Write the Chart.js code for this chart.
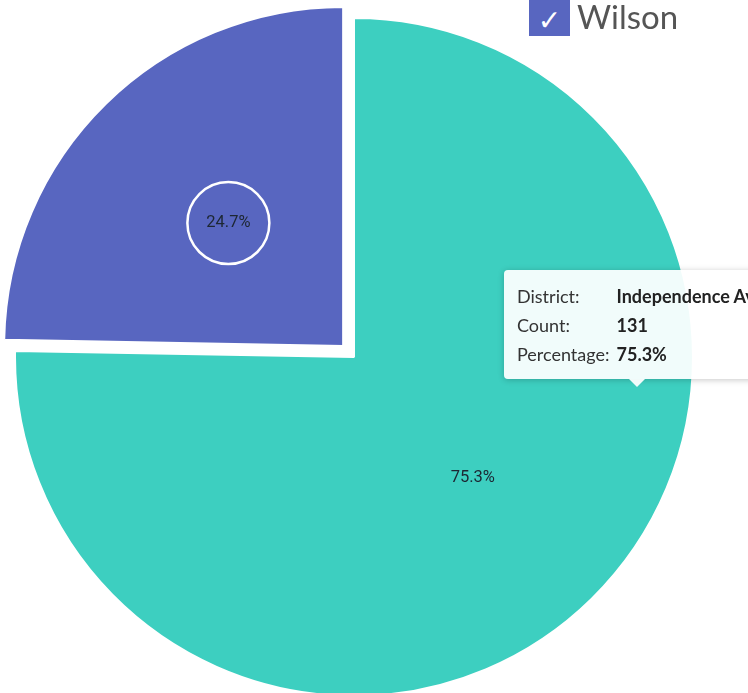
<!DOCTYPE html>
<html>
<head>
<meta charset="utf-8">
<title>District share</title>
<script src="https://cdn.jsdelivr.net/npm/chart.js@4.4.1/dist/chart.umd.min.js"></script>
<style>
    html, body { margin: 0; padding: 0; background: #fff; width: 748px; height: 693px; overflow: hidden; }
    #wrap { position: relative; width: 748px; height: 693px; overflow: hidden; }
    #legend { position: absolute; left: 529px; top: -4px; display: flex; align-items: center; font-family: Lato, sans-serif; font-size: 33px; color: #555; }
    #legend .box { width: 41px; height: 40px; background: #5866c0; color: #fff; font-family: "DejaVu Sans", sans-serif; font-size: 28px; line-height: 50px; text-align: center; margin-right: 7px; overflow: hidden; }
    #tip { position: absolute; background: rgba(255, 255, 255, 0.93); border-radius: 4px; box-shadow: 0 1px 6px rgba(0, 0, 0, 0.22);
           padding: 12px 14px 10px 13px; font-family: Lato, sans-serif; font-size: 18px; color: #333; white-space: nowrap; pointer-events: none; }
    #tip table { border-collapse: collapse; }
    #tip td { padding: 0; height: 29px; line-height: 29px; }
    #tip td.k { padding-right: 7px; width: 90px; }
    #tip td.v { font-weight: bold; color: #222; }
    #tip .caret { position: absolute; bottom: -8px; width: 0; height: 0; border-left: 8px solid transparent; border-right: 8px solid transparent; border-top: 8px solid rgba(255, 255, 255, 0.93); }
</style>
</head>
<body>
<div id="wrap">
    <canvas id="districtChart" width="748" height="693"></canvas>
    <div id="legend"></div>
    <div id="tip" style="display:none"></div>
</div>
<script>
// data
const districts = ['Independence Ave', 'Wilson'];
const counts = [131, 43];
const sliceColors = ['#3dcfc0', '#5866c0'];
const legendShown = ['Wilson'];
const highlighted = 'Wilson';
const tooltipAt = { x: 637, y: 390 };

document.addEventListener('DOMContentLoaded', function () {
    const total = counts.reduce((a, b) => a + b, 0);
    const pct = v => (v / total * 100).toFixed(1) + '%';

    // legend (only the part that is visible)
    const legend = document.getElementById('legend');
    legendShown.forEach(name => {
        legend.innerHTML += `<span class="box">✓</span><span>${name}</span>`;
    });

    Chart.Tooltip.positioners.pointer = function (elements, eventPosition) {
        if (!eventPosition) return false;
        return { x: eventPosition.x, y: eventPosition.y };
    };

    function htmlTooltip(context) {
        const tip = document.getElementById('tip');
        const model = context.tooltip;
        if (model.opacity === 0 || !model.dataPoints || !model.dataPoints.length) {
            tip.style.display = 'none';
            return;
        }
        const i = model.dataPoints[0].dataIndex;
        tip.innerHTML = `<table>
            <tr><td class="k">District:</td><td class="v">${districts[i]}</td></tr>
            <tr><td class="k">Count:</td><td class="v">${counts[i]}</td></tr>
            <tr><td class="k">Percentage:</td><td class="v">${pct(counts[i])}</td></tr>
        </table><div class="caret"></div>`;
        tip.style.display = 'block';
        const caretLeft = 133;
        tip.style.left = (model.caretX - caretLeft) + 'px';
        tip.style.top = (model.caretY - 11 - tip.offsetHeight) + 'px';
        tip.querySelector('.caret').style.left = (caretLeft - 8) + 'px';
    }

    // percentage labels in the slices, circle round the highlighted one
    const sliceLabels = {
        id: 'sliceLabels',
        afterDatasetsDraw(chart) {
            const ctx = chart.ctx;
            const meta = chart.getDatasetMeta(0);
            meta.data.forEach((arc, i) => {
                const mid = (arc.startAngle + arc.endAngle) / 2;
                // arc element moves by offset / 4 for slices up to a half circle
                const dist = (arc.innerRadius + arc.outerRadius) / 2 + (arc.options.offset || 0) / 4;
                let x = arc.x + Math.cos(mid) * dist;
                let y = arc.y + Math.sin(mid) * dist;
                ctx.save();
                if (districts[i] === highlighted) {
                    x += 4; y -= 2;
                    ctx.beginPath();
                    ctx.arc(x, y, 41, 0, Math.PI * 2);
                    ctx.strokeStyle = '#fff';
                    ctx.lineWidth = 2.5;
                    ctx.stroke();
                }
                ctx.font = '16.5px Roboto, sans-serif';
                ctx.fillStyle = '#1d2733';
                ctx.textAlign = 'center';
                ctx.textBaseline = 'middle';
                ctx.fillText(pct(counts[i]), x, y);
                ctx.restore();
            });
        }
    };

    const chart = new Chart(document.getElementById('districtChart'), {
        type: 'pie',
        data: {
            labels: districts,
            datasets: [{
                data: counts,
                backgroundColor: sliceColors,
                hoverBackgroundColor: sliceColors,
                borderColor: '#fff',
                borderWidth: 2,
                hoverBorderWidth: 2,
                offset: c => districts[c.dataIndex] === highlighted ? 62 : 0,
                hoverOffset: 0,
                radius: 339,
                clip: false
            }]
        },
        options: {
            responsive: false,
            animation: false,
            events: [],
            layout: { padding: { top: 21, left: 0, right: 40, bottom: 0 } },
            plugins: {
                legend: { display: false },
                tooltip: { enabled: false, position: 'pointer', external: htmlTooltip }
            }
        },
        plugins: [sliceLabels]
    });

    chart.tooltip.setActiveElements([{ datasetIndex: 0, index: 0 }], tooltipAt);
    chart.draw();
});
</script>
</body>
</html>
